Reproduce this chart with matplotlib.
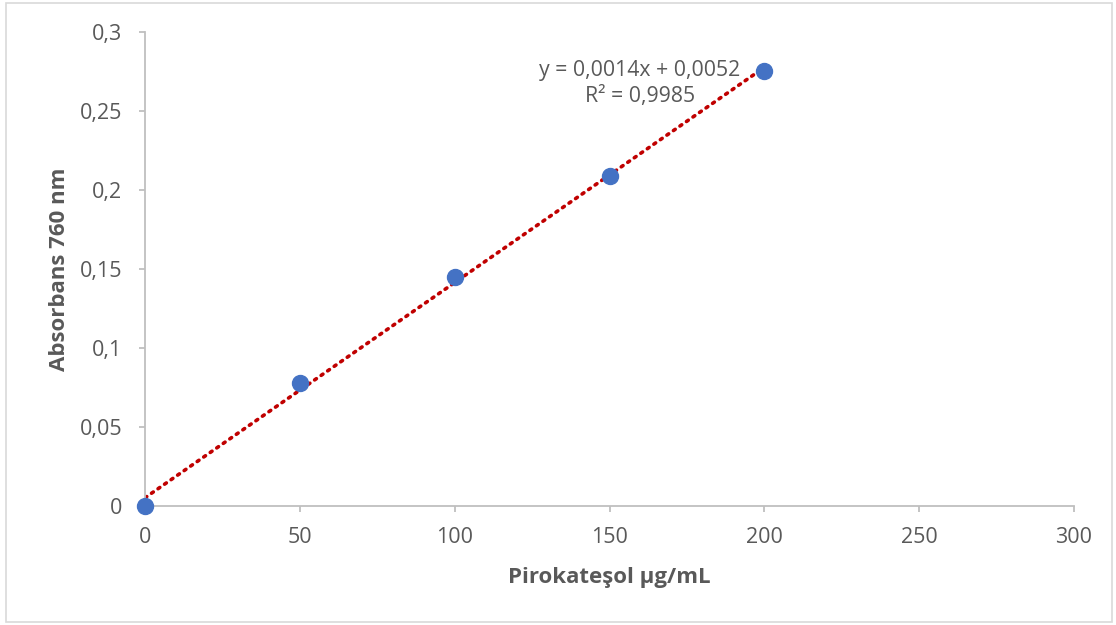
import matplotlib
matplotlib.use("Agg")
import matplotlib.pyplot as plt
import numpy as np
from matplotlib.patches import Rectangle

conc = [0, 50, 100, 150, 200]
absorb = [0.0, 0.078, 0.145, 0.209, 0.275]
x_ticks = [0, 50, 100, 150, 200, 250, 300]
y_ticks = [0, 0.05, 0.1, 0.15, 0.2, 0.25, 0.3]
y_tick_labels = ["0", "0,05", "0,1", "0,15", "0,2", "0,25", "0,3"]
eq_text = "y = 0,0014x + 0,0052\nR² = 0,9985"

plt.rcParams['font.family'] = ['Open Sans', 'DejaVu Sans']
W, H = 1116, 625
fig = plt.figure(figsize=(W/100, H/100), dpi=100)
fig.patches.append(Rectangle((6/W, 3/H), (1112-6)/W, (622-3)/H, transform=fig.transFigure,
                             fill=False, edgecolor='#d9d9d9', linewidth=1.2))
ax = fig.add_axes([145/W, 119/H, (1074-145)/W, 474/H])

slope, intercept = np.polyfit(conc, absorb, 1)
xs = np.array([0, 200])
ax.plot(xs, slope*xs + intercept, linestyle=(0, (0.6, 1.6)), color='#c00000',
        linewidth=2.6, dash_capstyle='round', zorder=2)
ax.plot(conc, absorb, 'o', color='#4472c4', markersize=11.5, zorder=3, clip_on=False)

ax.set_xlim(0, 300)
ax.set_ylim(0, 0.3)
ax.set_xticks(x_ticks)
ax.set_xticklabels([str(v) for v in x_ticks])
ax.set_yticks(y_ticks)
ax.set_yticklabels(y_tick_labels)
for s in ['top', 'right']:
    ax.spines[s].set_visible(False)
for s in ['left', 'bottom']:
    ax.spines[s].set_color('#bfbfbf')
    ax.spines[s].set_linewidth(1.3)
ax.tick_params(axis='both', colors='#bfbfbf', length=4, width=1.3, labelsize=15.5,
               labelcolor='#595959')
ax.tick_params(axis='x', pad=11)
ax.tick_params(axis='y', pad=12.5)
ax.set_xlabel("Pirokateşol µg/mL", fontsize=16, fontweight='bold', color='#595959', labelpad=14)
ax.set_ylabel("Absorbans 760 nm", fontsize=16, fontweight='bold', color='#595959', labelpad=7)

ax.text(159.8, 0.2675, eq_text, ha='center', va='center', fontsize=15.3, color='#595959',
        linespacing=1.32)

fig.savefig("out.png", dpi=100)
